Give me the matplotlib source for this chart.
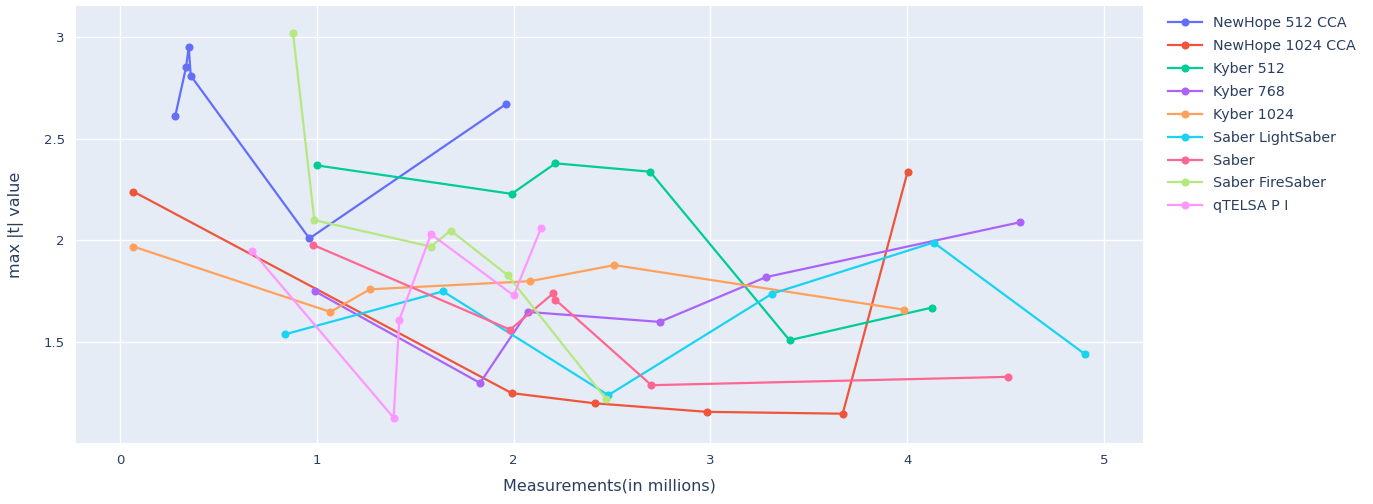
import matplotlib.pyplot as plt

# Données
names = ['NewHope 512 CCA', 'NewHope 1024 CCA', 'Kyber 512', 'Kyber 768', 'Kyber 1024',
         'Saber LightSaber', 'Saber', 'Saber FireSaber', 'qTELSA P I']
colors = ['#636EFA', '#EF553B', '#00CC96', '#AB63FA', '#FFA15A',
          '#19D3F3', '#FF6692', '#B6E880', '#FF97FF']

newhope512_x = [0.28, 0.335, 0.349, 0.359, 0.962, 1.961]
newhope512_y = [2.61, 2.85, 2.95, 2.81, 2.01, 2.67]
newhope1024_x = [0.068, 1.99, 2.412, 2.983, 3.672, 4.002]
newhope1024_y = [2.24, 1.25, 1.20, 1.158, 1.149, 2.338]
kyber512_x = [0.999, 1.99, 2.212, 2.693, 3.402, 4.124]
kyber512_y = [2.369, 2.229, 2.379, 2.338, 1.51, 1.67]
kyber768_x = [0.991, 1.829, 2.071, 2.742, 3.282, 4.575]
kyber768_y = [1.75, 1.30, 1.649, 1.60, 1.82, 2.09]
kyber1024_x = [0.068, 1.069, 1.269, 2.083, 2.512, 3.984]
kyber1024_y = [1.97, 1.649, 1.76, 1.80, 1.879, 1.66]
light_x = [0.838, 1.641, 2.481, 3.314, 4.134, 4.905]
light_y = [1.539, 1.75, 1.24, 1.739, 1.99, 1.44]
saber_x = [0.979, 1.982, 2.201, 2.212, 2.70, 4.514]
saber_y = [1.979, 1.562, 1.74, 1.709, 1.289, 1.33]
fire_x = [0.879, 0.987, 1.58, 1.68, 1.969, 2.469]
fire_y = [3.018, 2.10, 1.97, 2.049, 1.83, 1.222]
qtesla_x = [0.669, 1.39, 1.419, 1.58, 2.0, 2.139]
qtesla_y = [1.95, 1.129, 1.611, 2.031, 1.73, 2.06]

xs = [newhope512_x, newhope1024_x, kyber512_x, kyber768_x, kyber1024_x,
      light_x, saber_x, fire_x, qtesla_x]
ys = [newhope512_y, newhope1024_y, kyber512_y, kyber768_y, kyber1024_y,
      light_y, saber_y, fire_y, qtesla_y]

txt = '#2a3f5f'
fig = plt.figure(figsize=(13.73, 5.04), dpi=100)
ax = fig.add_axes([76 / 1373, 1 - 443 / 504, (1143 - 76) / 1373, (443 - 6) / 504])
ax.set_facecolor('#E5ECF6')

for name, c, x, y in zip(names, colors, xs, ys):
    ax.plot(x, y, '-o', color=c, lw=1.6, ms=4.8, label=name)

ax.set_xlim(-0.224, 5.198)
ax.set_ylim(1.005, 3.152)
ax.set_xticks([0, 1, 2, 3, 4, 5])
ax.set_yticks([1.5, 2, 2.5, 3])
ax.set_yticklabels(['1.5', '2', '2.5', '3'])
ax.grid(color='white', lw=1)
ax.set_axisbelow(True)
for s in ax.spines.values():
    s.set_visible(False)
ax.tick_params(length=0, labelsize=9.5, colors=txt, pad=8)
ax.set_xlabel('Measurements(in millions)', fontsize=11.5, color=txt, labelpad=8)
ax.set_ylabel('max |t| value', fontsize=11.5, color=txt, labelpad=14)

ax.legend(loc='upper left', bbox_to_anchor=(1083 / 1067, 0.996), frameon=False,
          fontsize=10.3, labelcolor=txt, handlelength=2.4, labelspacing=0.62,
          borderaxespad=0.2)

fig.savefig('out.png', dpi=100)
